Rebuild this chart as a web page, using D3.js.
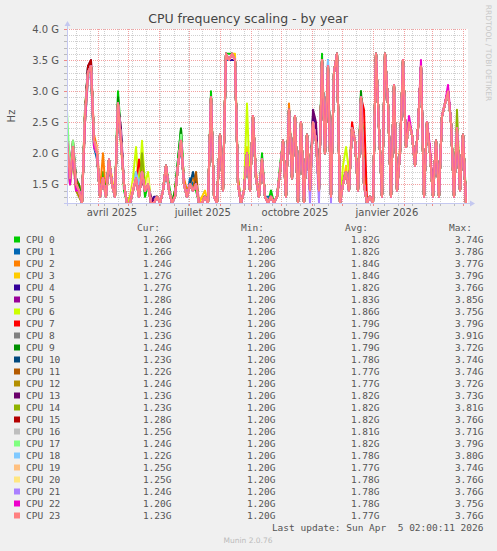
<!DOCTYPE html>
<html>
<head>
<meta charset="utf-8">
<script src="https://cdn.jsdelivr.net/npm/d3@7"></script>
<style>
  body { margin: 0; background: #f0f0f0; }
  text { font-family: 'DejaVu Sans', sans-serif; }
  .mono { font-family: 'DejaVu Sans Mono', monospace; white-space: pre; }
</style>
</head>
<body>
<svg id="chart" width="497" height="551"></svg>
<script>
// ---- data ----
const cpuNames = ['CPU 0','CPU 1','CPU 2','CPU 3','CPU 4','CPU 5','CPU 6','CPU 7','CPU 8','CPU 9','CPU 10','CPU 11',
  'CPU 12','CPU 13','CPU 14','CPU 15','CPU 16','CPU 17','CPU 18','CPU 19','CPU 20','CPU 21','CPU 22','CPU 23'];
const cpuColors = ['#00cc00','#0066b3','#ff8000','#ffcc00','#330099','#990099','#ccff00','#ff0000','#808080','#008f00',
  '#00487d','#b35a00','#b38f00','#6b006b','#8fb300','#b30000','#bebebe','#80ff80','#80c9ff','#ffc080','#ffe680','#aa80ff','#ee00cc','#ff8080'];

// legend figures, GHz
const curValues = [1.26,1.26,1.24,1.27,1.27,1.28,1.24,1.23,1.23,1.24,1.23,1.22,1.24,1.23,1.23,1.28,1.25,1.24,1.22,1.25,1.25,1.24,1.20,1.23];
const minValues = [1.20,1.20,1.20,1.20,1.20,1.20,1.20,1.20,1.20,1.20,1.20,1.20,1.20,1.20,1.20,1.20,1.20,1.20,1.20,1.20,1.20,1.20,1.20,1.20];
const avgValues = [1.82,1.82,1.84,1.84,1.82,1.83,1.86,1.79,1.79,1.79,1.78,1.77,1.77,1.82,1.82,1.82,1.81,1.82,1.78,1.77,1.78,1.78,1.78,1.77];
const maxValues = [3.74,3.78,3.77,3.79,3.76,3.85,3.75,3.79,3.91,3.72,3.74,3.74,3.72,3.73,3.81,3.76,3.71,3.79,3.80,3.74,3.76,3.76,3.75,3.76];

const yTickValues = [1.5, 2.0, 2.5, 3.0, 3.5, 4.0];     // GHz
const xTickMonths = ['2025-04-01','2025-07-01','2025-10-01','2026-01-01'];
const xTickLabels = ['avril 2025','juillet 2025','octobre 2025','janvier 2026'];

// samples every 3 days from 1 Mar 2025, in 0.1 GHz
const startDate = new Date(2025, 2, 1, 2, 0, 11);
const endDate = new Date(2026, 3, 5, 2, 0, 11);
const stepDays = 3;

const cpu0  = [24,18,22,16,15,12,27,34,33,21, 20,13,17,13,18,15,13,30,23,14, 12,12,15,17,14,18,13,15,12,12, 13,12,14,18,15,12,14,19,24,15, 13,15,15,14,12,12,13,12,30,13, 12,22,15,36,36,36,35,16,12,14, 20,15,25,16,13,20,13,12,14,12, 13,18,22,13,27,17,26,12,25,12, 23,14,26,22,15,36,20,34,13,33, 36,12,15,17,15,24,22,15,30,15, 12,13,12,36,24,13,36,28,13,31, 14,20,35,21,25,23,18,24,34,13, 25,20,13,22,13,26,28,30,25,13, 24,14,23,13];
const cpu1  = [21,17,20,16,14,13,25,32,33,21, 19,14,16,14,18,15,13,27,22,15, 12,13,14,17,14,16,14,15,12,12, 13,12,14,17,14,12,13,18,21,15, 13,16,15,15,12,12,13,12,29,13, 12,23,14,35,35,36,35,15,12,14, 19,14,26,16,13,19,13,13,13,12, 13,17,22,13,27,16,26,12,25,12, 23,14,25,22,14,35,20,35,13,33, 36,12,16,17,14,24,22,14,29,15, 12,13,12,36,24,13,36,28,13,31, 14,20,35,21,25,23,18,24,34,13, 25,20,13,22,13,26,28,30,25,13, 24,14,23,12];
const cpu2  = [22,15,20,15,15,12,27,33,34,23, 21,14,20,13,18,15,13,27,22,15, 12,12,14,16,13,17,14,15,12,12, 13,12,14,18,14,12,13,18,22,16, 14,15,16,15,12,13,13,12,29,13, 12,23,14,36,35,36,35,16,12,14, 20,14,26,17,13,19,13,12,13,12, 13,17,22,13,28,16,26,12,25,12, 23,14,25,23,14,35,20,34,13,33, 36,12,15,17,14,24,22,14,29,15, 12,13,12,36,24,13,36,28,13,31, 14,21,35,21,25,23,18,24,34,13, 25,20,13,22,13,26,28,30,25,13, 24,14,23,12];
const cpu3  = [21,17,22,14,15,12,25,33,33,22, 20,13,16,14,19,16,13,28,21,15, 12,12,15,17,13,18,14,16,12,12, 13,12,14,18,14,12,14,18,22,15, 13,15,14,15,12,13,14,12,29,13, 12,23,14,36,35,36,36,15,12,14, 21,14,26,16,13,19,13,12,13,12, 13,17,22,13,27,16,26,12,25,12, 23,14,25,22,14,35,20,34,13,33, 36,12,15,18,14,24,22,14,29,16, 12,13,12,36,24,13,36,28,13,31, 14,20,35,21,25,23,18,24,34,13, 25,20,13,22,13,26,28,30,25,13, 24,14,23,12];
const cpu4  = [23,16,21,16,14,12,26,34,33,22, 20,13,16,13,19,15,13,27,23,15, 12,12,14,16,14,17,15,15,12,13, 13,12,14,18,14,12,13,18,22,15, 13,15,14,15,12,12,13,12,29,13, 12,23,14,36,35,35,35,15,12,14, 20,14,26,16,13,19,13,12,13,12, 13,17,22,13,27,16,26,12,25,12, 23,14,26,24,14,35,20,34,13,33, 36,12,15,17,14,24,22,14,29,15, 12,13,12,36,24,13,36,28,13,31, 14,20,35,21,25,23,18,24,34,13, 25,20,13,22,13,26,28,30,25,13, 24,14,23,12];
const cpu5  = [22,17,22,15,14,12,26,33,34,22, 20,13,16,13,19,15,13,28,22,15, 12,12,14,16,13,17,14,15,12,12, 13,12,14,18,14,12,13,18,22,15, 13,15,14,15,12,12,13,12,29,13, 12,23,14,36,35,36,35,15,12,14, 20,14,26,16,13,19,13,12,13,12, 13,17,22,13,27,16,26,12,25,12, 23,14,25,22,14,35,20,34,13,33, 36,12,15,17,14,24,22,14,29,15, 12,13,12,36,24,13,36,28,13,31, 14,20,35,21,25,23,18,24,34,13, 25,20,13,22,13,26,28,30,25,13, 24,14,23,12];
const cpu6  = [22,16,21,15,14,12,26,33,34,22, 20,13,16,13,19,15,13,28,22,15, 12,13,16,21,14,22,15,17,12,12, 13,12,14,18,14,12,13,18,22,15, 13,15,14,15,12,12,13,12,29,13, 12,23,14,36,35,36,35,15,12,14, 28,14,26,16,13,19,13,12,13,12, 13,17,22,13,27,16,26,12,25,12, 23,14,25,22,14,35,20,34,13,33, 36,12,18,21,17,24,22,14,29,18, 12,13,12,36,24,13,36,28,13,31, 14,20,35,21,25,23,18,24,34,13, 25,20,13,22,13,26,28,30,25,13, 24,14,23,12];
const cpu7  = [22,16,21,15,14,12,26,33,34,22, 20,13,16,13,19,15,13,28,22,15, 12,12,15,15,19,16,14,15,12,12, 13,12,14,18,14,12,13,18,22,15, 13,15,14,15,12,12,13,12,29,13, 12,23,14,36,35,36,35,15,12,14, 20,14,26,16,13,19,13,12,13,12, 13,17,22,13,27,16,26,12,25,12, 23,14,25,22,14,35,20,34,13,33, 36,12,15,17,14,25,22,14,29,27, 12,13,12,36,24,13,36,28,13,31, 14,20,35,21,25,23,18,24,34,13, 25,20,13,22,13,26,28,30,25,13, 24,14,23,12];
const cpu8  = [21,16,20,15,14,12,26,33,33,22, 20,13,16,13,18,15,13,28,22,15, 12,12,14,16,13,17,14,15,12,12, 13,12,14,18,14,12,13,18,22,15, 13,15,14,15,12,12,13,12,29,13, 12,23,14,36,35,36,35,15,12,14, 20,14,26,16,13,19,13,12,13,12, 13,17,22,13,27,16,26,12,25,12, 23,14,25,22,14,35,20,34,13,33, 36,12,15,17,14,24,22,14,29,15, 12,13,12,36,24,13,36,28,13,31, 14,20,35,21,25,23,18,24,34,13, 25,20,13,22,13,26,28,30,25,13, 24,14,23,12];
const cpu9  = [23,17,21,15,15,12,26,33,34,22, 20,13,16,14,19,15,13,29,22,15, 12,12,14,16,13,17,14,15,12,12, 13,12,14,18,14,12,14,19,24,15, 13,15,14,15,12,12,13,12,29,13, 12,23,14,36,35,36,35,15,12,14, 20,14,26,16,13,19,13,12,13,12, 13,17,22,13,27,16,26,12,25,12, 23,14,25,22,14,35,20,34,13,33, 36,12,15,17,14,24,22,14,30,15, 12,13,12,36,24,13,36,28,13,31, 14,20,35,21,25,23,18,24,34,13, 25,20,13,22,13,26,28,30,25,13, 24,14,23,12];
const cpu10 = [22,16,21,15,14,12,26,33,34,22, 20,13,16,13,19,15,13,28,22,15, 12,12,14,16,13,17,14,15,12,12, 13,12,14,18,14,12,13,18,22,15, 13,15,17,15,12,12,13,12,29,13, 12,23,14,36,35,36,35,15,12,14, 20,14,26,16,13,19,13,12,13,12, 13,17,22,13,27,16,26,12,25,12, 23,14,25,22,14,35,20,34,13,33, 36,12,15,17,14,24,22,14,29,15, 12,13,12,36,24,13,36,28,13,31, 14,20,35,21,25,23,18,24,34,13, 25,20,13,22,13,26,28,30,25,13, 24,14,23,12];
const cpu11 = [21,16,21,16,14,12,26,33,34,22, 20,13,16,13,19,15,13,28,22,15, 12,12,14,16,13,17,14,15,12,12, 13,12,14,18,14,12,13,18,22,15, 13,15,14,17,12,12,13,12,29,13, 12,23,14,36,35,36,35,15,12,14, 20,14,26,16,13,19,13,12,13,12, 13,17,22,13,27,16,26,12,25,12, 23,14,25,22,14,35,20,34,13,33, 36,12,15,17,14,24,22,14,29,15, 12,13,12,36,24,13,36,28,13,31, 14,20,35,21,25,23,18,24,34,13, 25,20,13,22,13,26,28,30,25,13, 24,14,23,12];
const cpu12 = [20,15,19,14,13,12,25,33,34,22, 20,13,16,13,19,15,13,28,22,15, 12,12,14,16,13,17,14,15,12,12, 13,12,14,18,14,12,13,18,22,15, 13,15,14,15,12,12,13,12,29,13, 12,23,14,36,35,36,35,15,12,14, 20,14,26,16,13,19,13,12,13,12, 13,17,22,13,27,16,26,12,25,12, 23,14,25,22,14,35,20,34,13,33, 36,12,15,17,14,24,22,14,29,15, 12,13,12,36,24,13,36,28,13,31, 14,20,35,21,25,23,18,24,34,13, 25,20,13,22,13,26,28,30,25,13, 24,14,23,12];
const cpu13 = [22,16,21,15,14,12,26,34,35,22, 20,13,16,13,19,15,13,28,24,15, 12,12,14,16,14,17,14,15,13,12, 13,12,14,18,14,12,13,18,22,15, 13,15,14,15,12,12,13,12,29,13, 12,23,14,36,35,36,35,15,12,14, 20,14,26,16,13,19,13,12,13,12, 13,17,22,13,27,16,26,12,25,12, 23,14,27,25,14,35,20,34,13,33, 36,12,15,17,14,24,22,14,29,15, 12,13,12,36,24,13,36,28,13,31, 14,20,35,21,25,23,18,24,34,13, 25,20,13,22,13,26,28,30,25,13, 24,14,23,12];
const cpu14 = [22,16,21,15,14,12,26,33,34,22, 20,13,16,13,19,15,13,28,22,15, 12,12,14,16,13,20,14,15,12,12, 13,12,14,18,14,12,13,18,22,15, 13,15,14,15,12,12,13,12,29,13, 12,23,14,36,35,36,35,15,12,14, 20,14,26,16,13,19,13,12,13,12, 13,17,22,13,27,16,26,12,25,12, 23,14,25,22,14,35,20,34,13,33, 36,12,15,17,14,24,22,14,29,15, 12,13,12,36,24,13,36,28,13,31, 14,20,35,21,25,23,18,24,34,13, 25,20,13,22,13,26,28,30,25,13, 27,14,23,12];
const cpu15 = [22,16,21,15,14,12,26,34,35,22, 20,13,16,13,19,15,13,28,22,15, 12,12,14,16,13,17,14,15,12,12, 13,12,14,18,14,12,13,18,22,15, 13,15,14,15,12,12,13,12,29,13, 12,23,14,36,35,36,35,15,12,14, 20,14,26,16,13,19,13,12,13,12, 13,17,22,13,27,16,26,12,25,12, 23,14,25,22,14,35,20,34,13,33, 36,12,15,17,14,24,22,14,29,15, 12,13,12,36,24,13,36,28,13,31, 14,20,35,21,25,23,18,24,34,13, 25,20,13,22,13,26,28,30,25,13, 24,14,23,12];
const cpu16 = [21,15,20,15,14,12,25,32,33,21, 20,13,16,13,19,15,13,28,22,15, 12,12,14,16,13,17,14,15,12,12, 13,12,14,18,14,12,13,18,22,15, 13,15,14,15,12,12,13,12,29,13, 12,23,14,36,35,36,35,15,12,14, 20,14,26,16,13,19,13,12,13,12, 13,17,22,13,27,16,26,12,25,12, 23,14,25,22,14,35,20,34,13,33, 36,12,15,17,14,24,22,14,29,15, 12,13,12,36,24,13,36,28,13,31, 14,20,35,21,25,23,18,24,34,13, 25,20,13,22,13,26,28,30,25,13, 24,14,23,12];
const cpu17 = [27,17,22,15,14,12,26,33,34,22, 20,13,16,13,19,15,13,28,22,15, 12,12,14,16,13,17,14,15,12,12, 13,12,14,18,14,12,13,18,23,15, 13,15,14,15,12,12,13,12,29,13, 12,23,14,36,35,36,35,15,12,14, 20,14,26,16,13,19,13,12,13,12, 13,17,22,13,27,16,26,12,25,12, 23,14,25,22,14,35,20,34,13,33, 36,12,15,17,14,24,22,14,29,15, 12,13,12,36,24,13,36,28,13,31, 14,20,35,21,25,23,18,24,34,13, 25,20,13,22,13,26,28,30,25,13, 24,14,23,12];
const cpu18 = [22,16,21,15,14,12,26,33,34,22, 20,13,16,13,19,15,13,28,22,15, 12,12,14,17,15,17,14,15,12,12, 13,12,14,18,14,12,13,18,22,15, 13,15,14,15,12,12,13,12,29,13, 12,23,14,36,35,36,35,15,12,14, 20,14,26,16,13,19,13,12,13,12, 13,17,22,13,27,16,26,12,25,12, 23,14,25,22,14,35,20,35,13,33, 36,12,15,17,14,24,22,14,29,15, 12,13,12,36,24,13,36,28,13,31, 14,20,35,21,25,23,18,24,34,13, 25,20,13,22,13,26,28,30,25,13, 24,14,23,12];
const cpu19 = [22,16,21,15,14,12,26,33,34,22, 21,13,16,13,19,15,13,28,22,15, 12,12,14,16,13,17,14,15,12,12, 13,12,14,18,14,12,13,18,22,15, 13,15,14,15,12,12,13,12,29,13, 12,23,14,36,35,36,35,15,12,14, 20,14,26,16,13,19,13,12,13,12, 13,17,22,13,27,16,26,12,25,12, 23,14,25,22,14,35,20,34,13,33, 36,12,15,17,14,24,22,14,29,15, 12,13,12,36,24,13,36,28,13,31, 14,20,35,21,25,23,18,24,34,13, 25,20,13,22,13,26,28,30,25,13, 24,14,23,12];
const cpu20 = [22,16,21,15,14,12,26,33,34,22, 20,13,16,13,19,15,13,28,22,15, 12,12,15,16,13,17,14,16,12,12, 13,12,14,18,14,12,13,18,22,15, 13,15,14,15,12,12,13,12,29,13, 12,23,14,36,35,36,35,15,12,14, 20,14,26,16,13,19,13,12,13,12, 13,17,22,13,27,16,26,12,25,12, 23,14,25,22,14,35,20,34,13,33, 36,12,15,17,14,24,22,14,29,15, 12,13,12,36,24,13,36,28,13,31, 14,20,35,21,25,23,18,24,34,13, 25,20,13,22,13,26,28,30,25,13, 24,14,23,12];
const cpu21 = [22,16,21,15,14,12,26,33,34,22, 20,13,16,13,19,15,13,28,22,15, 12,12,14,16,13,17,14,15,12,12, 13,12,14,18,14,12,13,18,22,15, 13,15,14,15,12,12,13,12,29,13, 12,23,14,36,35,36,35,15,12,14, 20,14,26,16,13,19,13,12,13,12, 13,17,22,13,27,16,26,12,25,12, 23,12,25,22,12,35,20,34,12,33, 36,12,15,17,14,24,22,14,29,15, 12,13,12,36,24,13,36,28,13,31, 14,20,35,21,25,23,18,24,34,13, 25,20,13,22,13,26,28,30,25,13, 24,14,23,12];
const cpu22 = [22,15,21,14,14,12,25,33,34,21, 20,13,16,13,19,15,13,28,22,15, 12,12,14,16,13,17,14,15,12,12, 13,12,14,18,14,12,13,18,22,15, 13,15,14,15,12,12,13,12,29,13, 12,23,14,36,35,36,35,15,12,14, 20,14,26,16,13,19,13,12,13,12, 13,17,22,13,27,16,26,12,25,12, 23,14,25,22,14,35,20,34,13,33, 36,12,15,17,14,24,22,14,29,15, 12,13,12,36,24,13,36,28,13,31, 14,20,35,21,26,23,18,24,35,13, 25,21,13,22,13,26,28,31,25,13, 24,14,23,12];
const cpu23 = [22,16,21,15,14,12,26,33,34,22, 20,13,16,13,19,15,13,28,22,15, 12,12,14,16,13,17,14,15,12,12, 13,12,14,18,14,12,13,18,22,15, 13,15,14,15,12,12,13,12,29,13, 12,23,14,36,35,36,35,15,12,14, 20,14,26,16,13,19,13,12,13,12, 13,17,22,13,27,16,26,12,25,12, 23,14,25,22,14,35,20,34,13,33, 36,12,15,17,14,24,22,14,29,15, 12,13,12,36,24,13,36,28,13,31, 14,20,35,21,25,23,18,24,34,13, 25,20,13,22,13,26,28,30,25,13, 24,14,23,12];

const cpuSeries = [cpu0,cpu1,cpu2,cpu3,cpu4,cpu5,cpu6,cpu7,cpu8,cpu9,cpu10,cpu11,
  cpu12,cpu13,cpu14,cpu15,cpu16,cpu17,cpu18,cpu19,cpu20,cpu21,cpu22,cpu23];

// ---- layout ----
const plot = { left: 67, right: 467, top: 29, bottom: 203 };
const axisColor = '#c4c8f0';
const minorGrid = '#cfcfcf';
const majorGrid = '#f2a0a0';
const textColor = '#555';

const svg = d3.select('#chart');

const x = d3.scaleTime().domain([startDate, endDate]).range([plot.left, plot.right]);
const y = d3.scaleLinear().domain([1.2, 4.0]).range([plot.bottom, plot.top]);

// plot background
svg.append('rect')
  .attr('x', plot.left).attr('y', plot.top)
  .attr('width', plot.right - plot.left + 1).attr('height', plot.bottom - plot.top)
  .attr('fill', '#fff');

// grid
const grid = svg.append('g').attr('shape-rendering', 'crispEdges');
const minorY = d3.range(12, 41).map(v => v / 10).filter(v => !yTickValues.some(t => Math.abs(t - v) < 1e-6));
grid.selectAll('.hmin').data(minorY).join('line')
  .attr('x1', plot.left).attr('x2', plot.right)
  .attr('y1', d => Math.round(y(d)) + 0.5).attr('y2', d => Math.round(y(d)) + 0.5)
  .attr('stroke', minorGrid).attr('stroke-dasharray', '1,1');

const minorX = d3.timeDay.range(new Date(2025, 2, 10), endDate, 14);
grid.selectAll('.vmin').data(minorX).join('line')
  .attr('x1', d => Math.round(x(d)) + 0.5).attr('x2', d => Math.round(x(d)) + 0.5)
  .attr('y1', plot.top).attr('y2', plot.bottom)
  .attr('stroke', minorGrid).attr('stroke-dasharray', '1,1');

const majorX = d3.timeMonth.range(d3.timeMonth.ceil(startDate), endDate);
grid.selectAll('.vmaj').data(majorX).join('line')
  .attr('x1', d => Math.round(x(d)) + 0.5).attr('x2', d => Math.round(x(d)) + 0.5)
  .attr('y1', plot.top).attr('y2', plot.bottom)
  .attr('stroke', majorGrid).attr('stroke-dasharray', '1,1');

grid.selectAll('.hmaj').data(yTickValues).join('line')
  .attr('x1', plot.left).attr('x2', plot.right)
  .attr('y1', d => Math.round(y(d)) + 0.5).attr('y2', d => Math.round(y(d)) + 0.5)
  .attr('stroke', majorGrid).attr('stroke-dasharray', '1,1');

// tick marks on the axes
grid.selectAll('.tx').data(minorX.concat(majorX)).join('line')
  .attr('x1', d => Math.round(x(d)) + 0.5).attr('x2', d => Math.round(x(d)) + 0.5)
  .attr('y1', plot.bottom).attr('y2', plot.bottom + 3)
  .attr('stroke', (d, i) => i < minorX.length ? '#bbb' : '#e88');
grid.selectAll('.ty').data(minorY.concat(yTickValues)).join('line')
  .attr('x1', plot.left - 3).attr('x2', plot.left)
  .attr('y1', d => Math.round(y(d)) + 0.5).attr('y2', d => Math.round(y(d)) + 0.5)
  .attr('stroke', (d, i) => i < minorY.length ? '#bbb' : '#e88');

// series
svg.append('clipPath').attr('id', 'clip').append('rect')
  .attr('x', plot.left).attr('y', plot.top - 1)
  .attr('width', plot.right - plot.left).attr('height', plot.bottom - plot.top + 1);

const line = d3.line()
  .x((d, i) => x(d3.timeDay.offset(startDate, i * stepDays)))
  .y(d => y(d / 10));

svg.append('g').attr('clip-path', 'url(#clip)')
  .selectAll('path').data(cpuSeries).join('path')
  .attr('d', line)
  .attr('fill', 'none')
  .attr('stroke', (d, i) => cpuColors[i])
  .attr('stroke-width', 2)
  .attr('stroke-linejoin', 'round');

// axes
const axes = svg.append('g').attr('shape-rendering', 'crispEdges');
axes.append('line')
  .attr('x1', plot.left - 3).attr('x2', plot.right + 5)
  .attr('y1', plot.bottom + 0.5).attr('y2', plot.bottom + 0.5)
  .attr('stroke', axisColor);
axes.append('line')
  .attr('x1', plot.left + 0.5).attr('x2', plot.left + 0.5)
  .attr('y1', plot.bottom + 3).attr('y2', plot.top - 5)
  .attr('stroke', axisColor);
svg.append('path')
  .attr('d', `M${plot.right + 3},${plot.bottom - 2.5}L${plot.right + 8},${plot.bottom + 0.5}L${plot.right + 3},${plot.bottom + 3.5}Z`)
  .attr('fill', axisColor);
svg.append('path')
  .attr('d', `M${plot.left - 2.5},${plot.top - 3}L${plot.left + 0.5},${plot.top - 8}L${plot.left + 3.5},${plot.top - 3}Z`)
  .attr('fill', axisColor);

// y tick labels
svg.selectAll('.ylab').data(yTickValues).join('text')
  .attr('x', plot.left - 8).attr('y', d => y(d) + 3.5)
  .attr('text-anchor', 'end').attr('font-size', 10).attr('fill', textColor)
  .text(d => d.toFixed(1) + ' G');

// x tick labels, centred on mid month
svg.selectAll('.xlab').data(xTickMonths).join('text')
  .attr('x', d => x(d3.timeDay.offset(new Date(d + 'T00:00:00'), 14)))
  .attr('y', plot.bottom + 13)
  .attr('text-anchor', 'middle').attr('font-size', 10).attr('fill', textColor)
  .text((d, i) => xTickLabels[i]);

// titles
svg.append('text')
  .attr('x', 248).attr('y', 23)
  .attr('text-anchor', 'middle').attr('font-size', 12.5).attr('fill', '#444')
  .text('CPU frequency scaling - by year');

svg.append('text')
  .attr('transform', `translate(15,${(plot.top + plot.bottom) / 2}) rotate(-90)`)
  .attr('text-anchor', 'middle').attr('font-size', 10).attr('fill', textColor)
  .text('Hz');

svg.append('text')
  .attr('transform', 'translate(486,53) rotate(90)')
  .attr('text-anchor', 'middle').attr('font-size', 7.5).attr('fill', '#c8c8c8')
  .text('RRDTOOL / TOBI OETIKER');

// legend
const legendTop = 239.5;
const rowH = 12;
const cols = [
  { head: 'Cur:', end: 171.5, vals: curValues },
  { head: 'Min:', end: 275.5, vals: minValues },
  { head: 'Avg:', end: 379.5, vals: avgValues },
  { head: 'Max:', end: 483.5, vals: maxValues }
];

const legend = svg.append('g').attr('font-size', 9.5).attr('fill', textColor);
legend.selectAll('.head').data(cols).join('text')
  .attr('class', 'mono')
  .attr('x', d => d.end - 11.5).attr('y', legendTop - rowH + 3.5)
  .attr('text-anchor', 'end')
  .text(d => d.head);

const rows = legend.selectAll('.row').data(cpuNames).join('g')
  .attr('transform', (d, i) => `translate(0,${legendTop + i * rowH})`);
rows.append('rect')
  .attr('x', 14).attr('y', -3).attr('width', 6).attr('height', 6)
  .attr('fill', (d, i) => cpuColors[i]);
rows.append('text')
  .attr('class', 'mono').attr('x', 26).attr('y', 3.5)
  .text(d => d);
cols.forEach(c => {
  rows.append('text')
    .attr('class', 'mono').attr('x', c.end).attr('y', 3.5)
    .attr('text-anchor', 'end')
    .text((d, i) => c.vals[i].toFixed(2) + 'G');
});

legend.append('text')
  .attr('class', 'mono').attr('x', 483.5).attr('y', legendTop + cpuNames.length * rowH + 3.5)
  .attr('text-anchor', 'end')
  .text('Last update: Sun Apr  5 02:00:11 2026');

svg.append('text')
  .attr('x', 248).attr('y', 543)
  .attr('text-anchor', 'middle').attr('font-size', 7.5).attr('fill', '#bbb')
  .text('Munin 2.0.76');
</script>
</body>
</html>
